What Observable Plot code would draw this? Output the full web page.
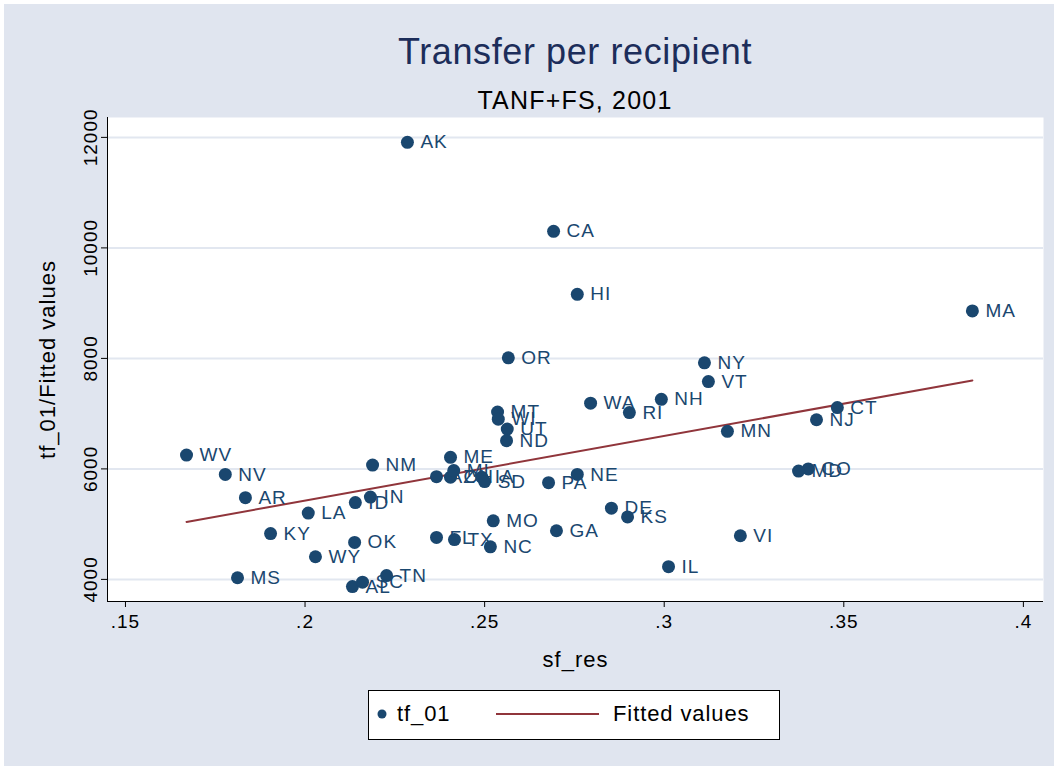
<!DOCTYPE html>
<html>
<head>
<meta charset="utf-8">
<script src="https://cdn.jsdelivr.net/npm/d3@7"></script>
<script src="https://cdn.jsdelivr.net/npm/@observablehq/plot@0.6"></script>
<style>
  body { margin: 0; background: #fff; font-family: "Liberation Sans", Arial, sans-serif; }
  #wrap { position: relative; width: 1059px; height: 771px; background: #fff; overflow: hidden; }
  #bg { position: absolute; left: 4px; top: 4px; right: 5px; bottom: 5px; background: #e0e5ef; }
  #chart { position: absolute; left: 0; top: 0; }
  .title { position: absolute; left: 107px; width: 936px; text-align: center; white-space: nowrap; }
  #t1 { top: 31px; font-size: 36px; line-height: 42px; color: #1c2d5a; letter-spacing: 0.6px; }
  #t2 { top: 86px; font-size: 25px; line-height: 29px; color: #000; letter-spacing: 1.2px; }
  #legend { position: absolute; left: 368px; top: 690px; width: 412px; height: 50px; background: #fff;
            border: 1.5px solid #000; box-sizing: border-box; font-size: 22px; color: #000; letter-spacing: 0.9px; }
  #legend svg { position: absolute; left: 0; top: 0; }
  #legend span { position: absolute; top: 10px; white-space: nowrap; line-height: 26px; }
</style>
</head>
<body>
<div id="wrap">
  <div id="bg"></div>
  <div id="t1" class="title">Transfer per recipient</div>
  <div id="t2" class="title">TANF+FS, 2001</div>
  <div id="chart"></div>
  <div id="legend">
    <svg width="412" height="50">
      <circle cx="13" cy="23" r="4.5" fill="#1a476f"></circle>
      <line x1="127" x2="230" y1="23" y2="23" stroke="#90353b" stroke-width="2"></line>
    </svg>
    <span style="left:28px">tf_01</span>
    <span style="left:244px">Fitted values</span>
  </div>
</div>
<script>
const states = ["AK","CA","HI","MA","OR","NY","VT","NH","WA","RI","CT","NJ","MN","MT","WI","UT","ND",
  "WV","NV","AR","LA","KY","MS","WY","OK","NM","IN","ID","ME","AZ","OH","MI","IA","SD","PA","NE","DE","KS",
  "GA","MO","NC","FL","TX","IL","VI","CO","MD","AL","SC","TN"];
const sfRes = [0.2285,0.2692,0.2758,0.3858,0.2566,0.3112,0.3123,0.2992,0.2795,0.2903,0.3482,0.3424,0.3176,0.2536,0.2538,0.2563,0.2561,
  0.1670,0.1778,0.1834,0.2009,0.1904,0.1812,0.2029,0.2138,0.2188,0.2182,0.2140,0.2405,0.2366,0.2405,0.2414,0.2492,0.2500,0.2678,0.2758,0.2853,0.2898,
  0.2700,0.2524,0.2516,0.2366,0.2416,0.3012,0.3212,0.3401,0.3374,0.2132,0.2160,0.2227];
const tf01 = [11910,10300,9160,8860,8010,7920,7580,7260,7190,7020,7110,6890,6680,7030,6900,6720,6510,
  6250,5900,5480,5200,4830,4030,4410,4670,6070,5490,5390,6210,5860,5850,5970,5850,5770,5750,5900,5290,5130,
  4880,5060,4590,4760,4720,4230,4790,6000,5960,3870,3950,4070];
const fitX = [0.1670, 0.3858];
const fitY = [5040, 7600];
const xTicks = [0.15, 0.2, 0.25, 0.3, 0.35, 0.4];
const yTicks = [4000, 6000, 8000, 10000, 12000];
const xDomain = [0.145, 0.4056];
const yDomain = [3600, 12360];

const points = states.map((s, i) => ({state: s, x: sfRes[i], y: tf01[i]}));
const fitted = fitX.map((x, i) => ({x, y: fitY[i]}));
const navy = "#1a476f";

const chart = Plot.plot({
  width: 1059,
  height: 690,
  marginTop: 117,
  marginLeft: 107,
  marginRight: 16,
  marginBottom: 89,
  style: { background: "transparent", fontFamily: "'Liberation Sans', Arial, sans-serif", fontSize: "19px", color: "#000", letterSpacing: "1px" },
  x: { domain: xDomain },
  y: { domain: yDomain },
  marks: [
    Plot.frame({ fill: "white", stroke: "none" }),
    Plot.gridY(yTicks, { stroke: "#e2e7f0", strokeOpacity: 1, strokeWidth: 2 }),
    Plot.ruleX([xDomain[0]], { stroke: "#000", strokeWidth: 1 }),
    Plot.ruleY([yDomain[0]], { stroke: "#000", strokeWidth: 1 }),
    Plot.axisX(xTicks, { tickSize: 6, tickPadding: 7, fontSize: 19, tickFormat: d => d3.format(".2~f")(d).replace(/^0/, ""), label: null }),
    Plot.axisY(yTicks, { tickSize: 6, tickPadding: 5, tickRotate: -90, fontSize: 19, tickFormat: d => String(d), label: null }),
    Plot.text(["sf_res"], { frameAnchor: "bottom", dy: 65, fontSize: 22, fill: "#000" }),
    Plot.text(["tf_01/Fitted values"], { frameAnchor: "left", textAnchor: "middle", lineAnchor: "middle", dx: -60, rotate: -90, fontSize: 22, fill: "#000" }),
    Plot.line(fitted, { x: "x", y: "y", stroke: "#90353b", strokeWidth: 2 }),
    Plot.dot(points, { x: "x", y: "y", r: 6.5, fill: navy, stroke: "none" }),
    Plot.text(points, { x: "x", y: "y", text: "state", dx: 13, textAnchor: "start", fontSize: 19, fill: navy })
  ]
});
document.getElementById("chart").appendChild(chart);
</script>
</body>
</html>
